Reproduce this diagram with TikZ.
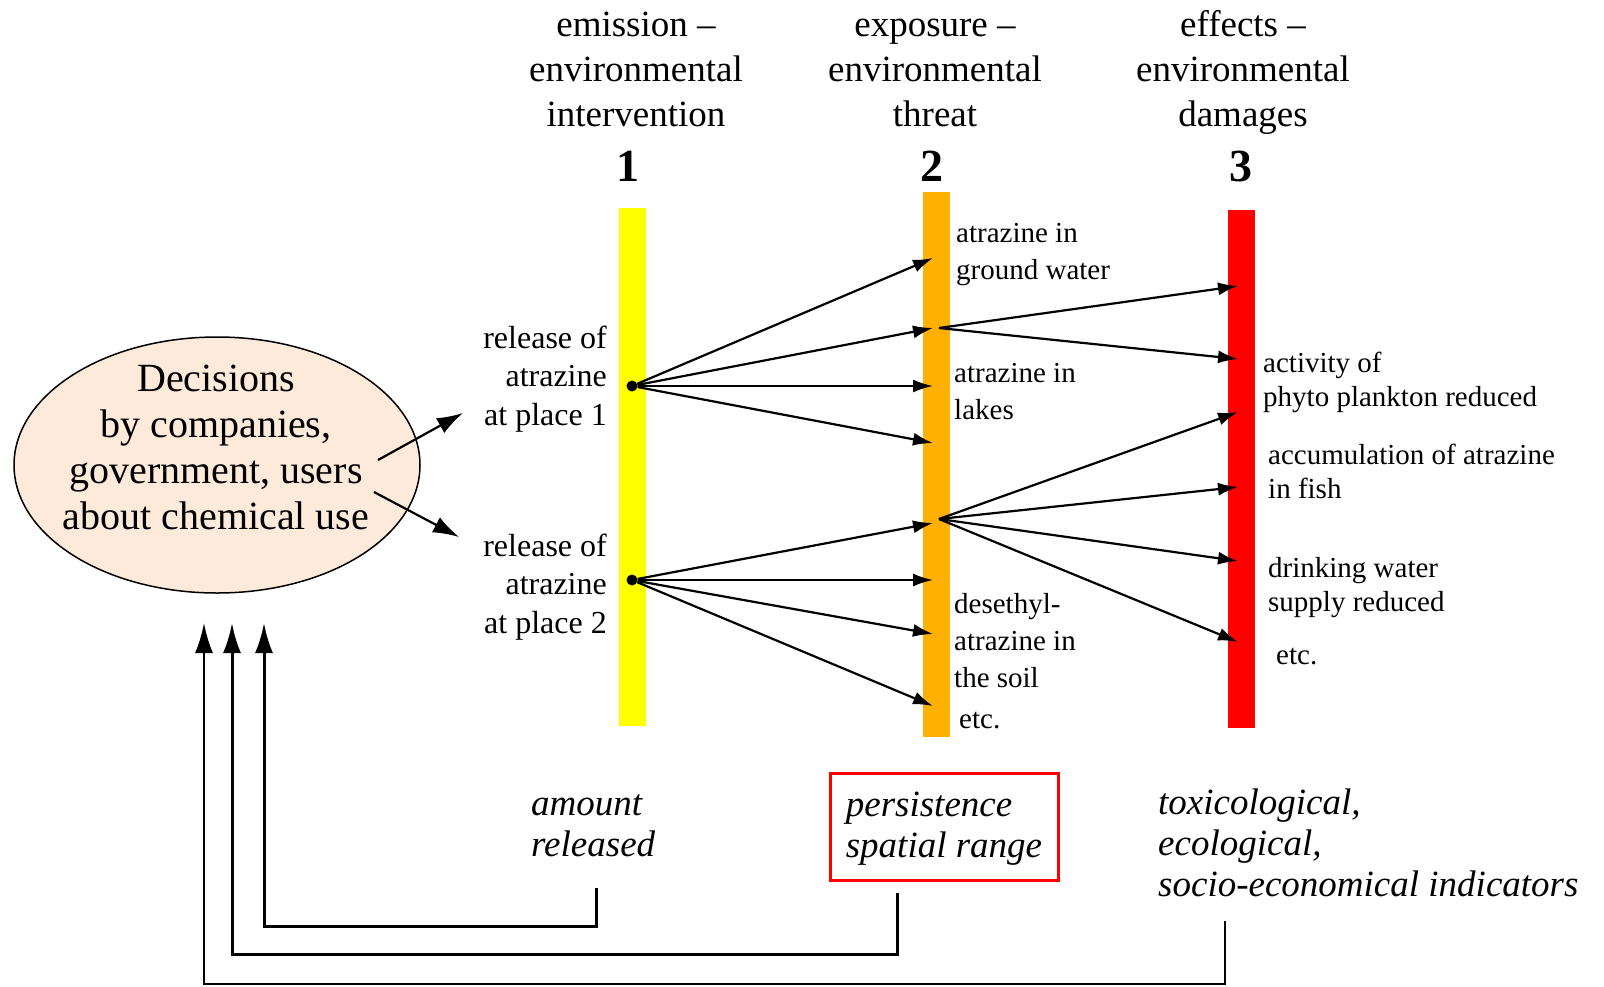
\documentclass[tikz,border=0pt]{standalone}
\usepackage{fontspec}
\setmainfont{Liberation Serif}
\usetikzlibrary{arrows.meta,shapes.geometric}
\definecolor{peach}{RGB}{253,234,218}
\definecolor{emisbar}{RGB}{255,255,0}
\definecolor{expobar}{RGB}{255,176,0}
\definecolor{effbar}{RGB}{255,0,0}
\newcommand{\fsz}[2]{\fontsize{#1}{#2}\selectfont}
\begin{document}
\begin{tikzpicture}[x=1pt,y=-1pt,
  head/.style={align=center,inner sep=0,font=\fsz{37}{45}},
  num/.style={inner sep=0,anchor=base,font=\fsz{46}{50}\bfseries},
  bar/.style={inner sep=0,minimum width=27pt},
  dot/.style={circle,fill=black,inner sep=0,minimum size=11pt},
  rel/.style={align=right,inner sep=0,anchor=east,font=\fsz{32}{38.5}},
  thr/.style={align=left,inner sep=0,anchor=west,font=\fsz{29}{37}},
  dam/.style={align=left,inner sep=0,anchor=west,font=\fsz{29}{34}},
  bot/.style={align=left,inner sep=0,font=\fsz{37}{41}\itshape},
  arr/.style={-{Latex[length=20pt,width=13pt]},line width=2.2pt},
  fb/.style={-{Latex[length=30pt,width=18pt]},line width=3pt}]
\useasboundingbox (0,0) rectangle (1604,986);
% the three stages
\node[head] (H1) at (636,69) {emission --\\environmental\\intervention};
\node[head] (H2) at (935,73) {exposure --\\environmental\\threat};
\node[head] (H3) at (1243,72) {effects --\\environmental\\damages};
\node[num] (N1) at (628,181) {1};
\node[num] (N2) at (932,181) {2};
\node[num] (N3) at (1241,181) {3};
\node[bar,fill=emisbar,minimum height=518pt] (B1) at (632,467) {};
\node[bar,fill=expobar,minimum height=545pt] (B2) at (936,464) {};
\node[bar,fill=effbar,minimum height=518pt] (B3) at (1241,469) {};
% decisions
\node[ellipse,draw,line width=1.5pt,fill=peach,minimum width=406pt,minimum height=256pt] (DE) at (217,465) {};
\node[align=center,inner sep=0,font=\fsz{40}{46}] (DT) at (216,447) {Decisions\\by companies,\\government, users\\about chemical use};
\coordinate (e1) at (378,460);
\coordinate (e2) at (374,492);
\coordinate (p1) at (463,413);
\coordinate (p2) at (459,537);
\draw[arr,-{Latex[length=26pt,width=17pt]}] (e1) -- (p1);
\draw[arr,-{Latex[length=26pt,width=17pt]}] (e2) -- (p2);
% releases
\node[rel] (L1) at (607,379) {release of\\atrazine\\at place 1};
\node[rel] (L2) at (607,587) {release of\\atrazine\\at place 2};
\node[dot] (R1) at (632,386) {};
\node[dot] (R2) at (632,580) {};
\coordinate (X1) at (939,328);
\coordinate (X2) at (939,519);
\foreach \y [count=\i] in {258,328,386,443} {
  \coordinate (a\i) at (933,\y);
  \draw[arr] (R1) -- (a\i);
}
\foreach \y [count=\i] in {523,580,634,706} {
  \coordinate (b\i) at (933,\y);
  \draw[arr] (R2) -- (b\i);
}
\foreach \y [count=\i] in {286,359} {
  \coordinate (c\i) at (1238,\y);
  \draw[arr] (X1) -- (c\i);
}
\foreach \y [count=\i] in {412,487,561,642} {
  \coordinate (d\i) at (1238,\y);
  \draw[arr] (X2) -- (d\i);
}
% exposure and effects
\node[thr] (T1) at (956,255) {atrazine in\\ground water};
\node[thr] (T2) at (954,392) {atrazine in\\lakes};
\node[thr] (T3) at (954,641) {desethyl-\\atrazine in\\the soil};
\node[thr] (T4) at (959,721) {etc.};
\node[dam] (D1) at (1263,382) {activity of\\phyto plankton reduced};
\node[dam] (D2) at (1268,471) {accumulation of atrazine\\in fish};
\node[dam] (D3) at (1268,588) {drinking water\\supply reduced};
\node[dam] (D4) at (1276,657) {etc.};
% indicators and feedback
\node[bot,anchor=west] (AR) at (531,826) {amount\\released};
\node[bot,draw=effbar,line width=3pt,minimum width=228pt,minimum height=107pt] (PS) at (944,827) {\strut persistence\\spatial range};
\node[bot,anchor=west] (TX) at (1158,843) {toxicological,\\ecological,\\socio-economical indicators};
\coordinate (f1) at (596,888);
\coordinate (f2) at (897,893);
\coordinate (f3) at (1225,921);
\coordinate (u1) at (264,623);
\coordinate (u2) at (232,623);
\coordinate (u3) at (204,623);
\draw[fb] (f1) -- ++(0,38) -| (u1);
\draw[fb] (f2) -- ++(0,61) -| (u2);
\draw[fb,line width=2.4pt] (f3) -- ++(0,63) -| (u3);
\end{tikzpicture}
\end{document}
